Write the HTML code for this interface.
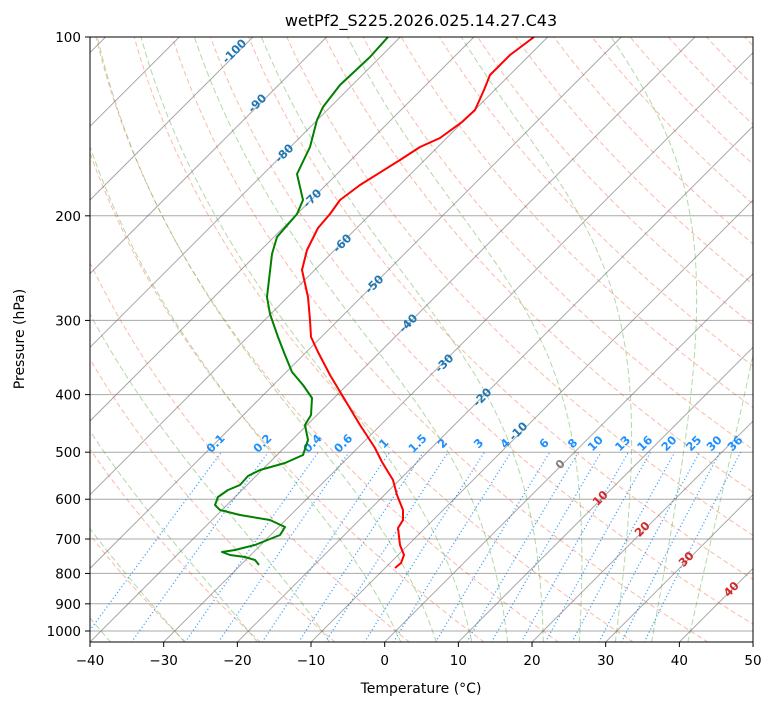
<!DOCTYPE html>
<html><head><meta charset="utf-8"><style>
body{margin:0;background:#fff;width:775px;height:708px;overflow:hidden;font-family:"DejaVu Sans","Liberation Sans",sans-serif}
</style></head><body>
<svg id="s" width="775" height="708" xmlns="http://www.w3.org/2000/svg" font-family="DejaVu Sans, Liberation Sans, sans-serif">
<defs><clipPath id="c"><rect x="90" y="37" width="663" height="605"/></clipPath></defs>
<rect width="775" height="708" fill="#fff"/>
<g id="bg" clip-path="url(#c)"></g>
<g id="lab"></g>
<g id="prof" clip-path="url(#c)" fill="none" stroke-width="2" stroke-linejoin="round">
<polyline stroke="#ff0000" points="534,37 510,55 490,75 484,90 475,110 462,122 440,138 420,147 400,160 360,185 340,200 330,214 318,228 307,250 302,270 308,297 310,320 311,337 318,352 330,375 345,400 360,425 375,448 382,462 393,480 397,495 403,510 403,520 398,528 400,545 404,555 401,563 395,568"/>
<polyline stroke="#008000" points="388,37 370,57 340,85 323,107 317,120 310,147 297,174 303,200 297,214 277,237 272,254 267,297 270,314 278,337 285,355 292,372 303,385 312,398 311,415 305,425 308,440 303,455 285,463 260,470 248,476 240,485 228,490 218,497 215,505 220,510 240,515 270,520 285,527 280,535 255,545 235,550 222,552 230,555 245,557 255,560 259,565"/>
</g>
<rect x="90" y="37" width="663" height="605" fill="none" stroke="#000" stroke-width="1"/>
<g id="ax" font-size="13.5" fill="#000"></g>
<text x="421" y="26" font-size="16" text-anchor="middle">wetPf2_S225.2026.025.14.27.C43</text>
<text x="421" y="693" font-size="14" text-anchor="middle">Temperature (°C)</text>
<text x="24" y="339" font-size="14" text-anchor="middle" transform="rotate(-90 24 339)">Pressure (hPa)</text>
</svg>
<script>
var X0=90,Y0=37,W=663,Yb=642,K=7.367,D=594;
function Y(p){return Y0+D*Math.log10(p/100);}
function X(T,p){var y=Y(p);return X0+(T+40)*K+(Yb-y);}
var bg=document.getElementById('bg'),NS='http://www.w3.org/2000/svg';
function pl(pts,st,w,da){var e=document.createElementNS(NS,'polyline');e.setAttribute('points',pts.map(function(a){return a[0].toFixed(1)+','+a[1].toFixed(1)}).join(' '));e.setAttribute('fill','none');e.setAttribute('stroke',st);e.setAttribute('stroke-width',w);if(da)e.setAttribute('stroke-dasharray',da);bg.appendChild(e);}
function ln(x1,y1,x2,y2,st,w){pl([[x1,y1],[x2,y2]],st,w);}
var ps=[];for(var p=1045;p>=99;p-=5)ps.push(p);
for(var th=-30;th<=250;th+=10){var pts=ps.map(function(p){var T=(th+273.15)*Math.pow(p/1000,0.2857)-273.15;return[X(T,p),Y(p)];});pl(pts,'rgba(245,120,80,0.5)',1,'5,3');}
function es(T){return 6.112*Math.exp(17.67*T/(T+243.5));}
function dTdp(T,p){var Tk=T+273.15,rs=0.622*es(T)/(p-es(T));var Lv=2.501e6,Rd=287,Cp=1005;return (Rd*Tk+Lv*rs)/(Cp+Lv*Lv*rs*0.622/(Rd*Tk*Tk))/p;}
var mt=[-50,-40,-30,-20,-10,0,5,10,15,20,25,30,35,40];
mt.forEach(function(t0){var T=t0,p;var up=[];for(p=1000;p>=100;p-=2){up.push([X(T,p),Y(p)]);T-=dTdp(T,p)*2;}
T=t0;var dn=[];for(p=1000;p<=1046;p+=2){dn.unshift([X(T,p),Y(p)]);T+=dTdp(T,p)*2;}
pl(dn.concat(up),'rgba(100,180,80,0.5)',1,'6,3');});
var ws=[0.1,0.2,0.4,0.6,1,1.5,2,3,4,6,8,10,13,16,20,25,30,36];
var lab=document.getElementById('lab');
function txt(x,y,s,c,sz,rot,bold){var e=document.createElementNS(NS,'text');e.setAttribute('x',x);e.setAttribute('y',y);e.setAttribute('fill',c);e.setAttribute('font-size',sz);e.setAttribute('text-anchor','middle');if(bold)e.setAttribute('font-weight','bold');if(rot)e.setAttribute('transform','rotate('+rot+' '+x+' '+y+')');e.textContent=s;lab.appendChild(e);}
function td(w,p){var e=w/1000*p/(0.622+w/1000);var l=Math.log(e/6.112);return 243.5*l/(17.67-l);}
ws.forEach(function(w){var pts=[];for(var p=1045;p>=500;p-=5)pts.push([X(td(w,p),p),Y(p)]);pl(pts,'rgba(30,144,255,0.85)',1.2,'1.2,2.4');
txt(X(td(w,500),500)-3,Y(500)-6,String(w),'#1e90ff',11.5,-45,true);});
for(var T=-150;T<=50;T+=10){ln(X(T,1045),Y(1045),X(T,100),Y(100),'rgba(110,110,110,0.6)',1);}
[100,200,300,400,500,600,700,800,900,1000].forEach(function(p){ln(X0,Y(p),X0+W,Y(p),'rgba(110,110,110,0.6)',1);});
[[-100,237,50],[-90,260,102],[-80,287,152],[-70,315,197],[-60,345,242],[-50,377,283],[-40,411,322],[-30,447,362],[-20,485,396],[-10,521,430]].forEach(function(a){txt(a[1],a[2]+4,String(a[0]),'#1f77b4',11.5,-45,true);});
txt(563,467,'0','#808080',11.5,-45,true);
[[10,603,501],[20,645,532],[30,689,562],[40,734,592]].forEach(function(a){txt(a[1],a[2],String(a[0]),'#d62728',11.5,-45,true);});
var ax=document.getElementById('ax');
function at(x,y,s,anc){var e=document.createElementNS(NS,'text');e.setAttribute('x',x);e.setAttribute('y',y);e.setAttribute('text-anchor',anc);e.textContent=s;ax.appendChild(e);}
function tk(x1,y1,x2,y2){var e=document.createElementNS(NS,'line');e.setAttribute('x1',x1);e.setAttribute('y1',y1);e.setAttribute('x2',x2);e.setAttribute('y2',y2);e.setAttribute('stroke','#000');ax.appendChild(e);}
for(var t=-40;t<=50;t+=10){var x=X0+(t+40)*K;tk(x,642,x,647);at(x,665,(t<0?'\u2212'+(-t):String(t)),'middle');}
[100,200,300,400,500,600,700,800,900,1000].forEach(function(p){var y=Y(p);tk(85,y,90,y);at(81,y+5,String(p),'end');});
</script>
</body></html>
